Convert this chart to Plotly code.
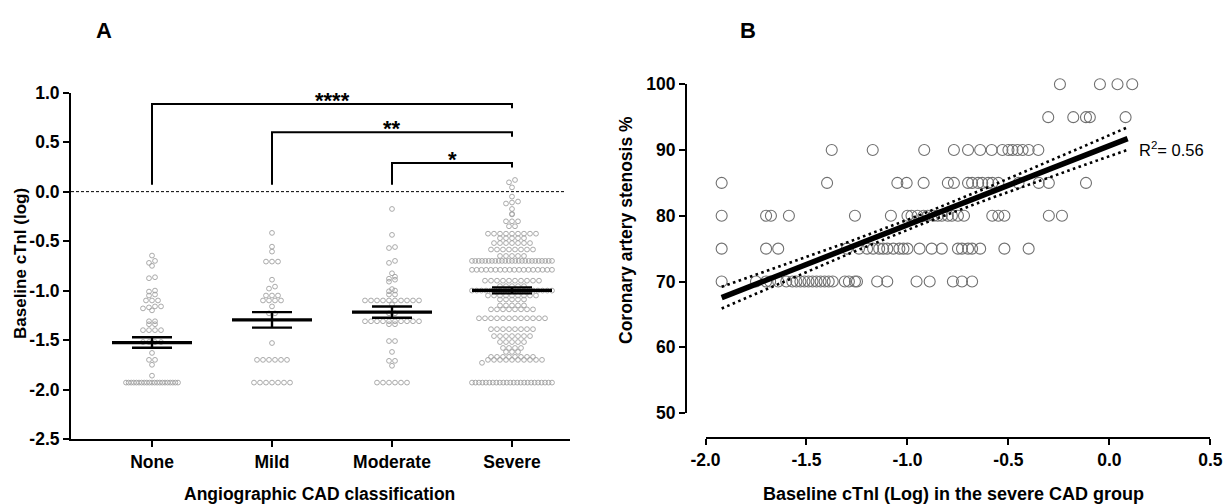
import numpy as np
import plotly.graph_objects as go

W, H = 1231, 504
FONT = "Liberation Sans, Arial, sans-serif"

# ---------------- Panel A data ----------------
categories = ["None", "Mild", "Moderate", "Severe"]

none_vals = ([-0.646, -0.70, -0.72, -0.75, -0.865, -0.875, -1.00, -1.01, -1.04, -1.05,
              -1.10, -1.10, -1.10, -1.16, -1.16, -1.17, -1.18, -1.20,
              -1.31, -1.31, -1.34, -1.34, -1.40, -1.40, -1.40, -1.40,
              -1.52, -1.52, -1.52, -1.52, -1.63, -1.70, -1.70, -1.75, -1.86]
             + [-1.93] * 21)
mild_vals = ([-0.417, -0.556, -0.606, -0.707, -0.707, -0.707, -0.89, -0.96, -0.98,
              -1.05, -1.05, -1.05, -1.10, -1.10, -1.10, -1.10, -1.16, -1.23, -1.23,
              -1.53] + [-1.70] * 6 + [-1.93] * 7)
moderate_vals = ([-0.175, -0.437, -0.56, -0.57, -0.70, -0.72, -0.825, -0.86, -0.88, -0.89,
                  -0.91, -0.985, -1.00, -1.007, -1.04, -1.04] + [-1.10] * 10
                 + [-1.14, -1.23, -1.23] + [-1.31] * 10
                 + [-1.34, -1.34, -1.51, -1.51, -1.62, -1.71, -1.71, -1.76] + [-1.93] * 6)
severe_vals = ([0.118, 0.094, 0.043, -0.05, -0.10, -0.11, -0.12, -0.175, -0.225, -0.23,
                -0.30, -0.30, -0.30, -0.35, -0.35]
               + [-0.425] * 9 + [-0.47] * 5 + [-0.52] * 7 + [-0.585] * 8 + [-0.65] * 5
               + [-0.70] * 25 + [-0.79] * 18 + [-0.90] * 10 + [-0.955] * 5 + [-1.00] * 18
               + [-1.05] * 9 + [-1.09] * 5 + [-1.15] * 5 + [-1.19] * 8 + [-1.28] * 12
               + [-1.39] * 8 + [-1.46] * 7 + [-1.52] * 5 + [-1.58] * 4 + [-1.62] * 3
               + [-1.67] * 8 + [-1.70] * 10 + [-1.73] + [-1.93] * 24)
group_vals = [none_vals, mild_vals, moderate_vals, severe_vals]

group_means = [-1.525, -1.296, -1.218, -0.998]
group_sems = [0.053, 0.078, 0.057, 0.03]

# significance comparisons: (from category, to category, bracket level, label)
comparisons = [(0, 3, 0.887, "****"), (1, 3, 0.60, "**"), (2, 3, 0.29, "*")]

A_yticks = [1.0, 0.5, 0.0, -0.5, -1.0, -1.5, -2.0, -2.5]
A_yticklabels = ["1.0", "0.5", "0.0", "-0.5", "-1.0", "-1.5", "-2.0", "-2.5"]

# ---------------- Panel B data ----------------
stenosis_levels = [100, 95, 90, 85, 80, 75, 70]
ctni_by_level = [
    [-0.245, -0.047, 0.04, 0.113],
    [-0.303, -0.179, -0.116, -0.097, 0.08],
    [-1.375, -1.172, -0.917, -0.77, -0.70, -0.64, -0.583, -0.53, -0.50, -0.48, -0.455,
     -0.43, -0.40, -0.352],
    [-1.92, -1.398, -1.05, -1.004, -0.92, -0.80, -0.77, -0.70, -0.68, -0.65, -0.63, -0.60,
     -0.58, -0.55, -0.45, -0.35, -0.30, -0.116],
    [-1.92, -1.70, -1.676, -1.587, -1.26, -1.082, -1.0, -0.98, -0.95, -0.92, -0.90, -0.87,
     -0.85, -0.83, -0.80, -0.78, -0.75, -0.72, -0.58, -0.55, -0.52, -0.30, -0.235],
    [-1.92, -1.70, -1.64, -1.30, -1.24, -1.20, -1.17, -1.14, -1.12, -1.10, -1.07, -1.04,
     -1.02, -1.0, -0.94, -0.88, -0.83, -0.75, -0.73, -0.70, -0.68, -0.64, -0.52, -0.40],
    [-1.92, -1.75, -1.70, -1.68, -1.64, -1.60, -1.57, -1.55, -1.53, -1.51, -1.49, -1.47,
     -1.45, -1.43, -1.41, -1.39, -1.37, -1.31, -1.29, -1.26, -1.25, -1.15, -1.10, -0.955,
     -0.89, -0.775, -0.73, -0.68],
]
fit_slope = 12.04
fit_intercept = 90.66
fit_x_range = [-1.92, 0.09]
ci_center_x = -0.941
ci_min_half = 0.75
ci_curv = 2.254
r2_text = "R<sup>2</sup>= 0.56"

B_xticks = [-2.0, -1.5, -1.0, -0.5, 0.0, 0.5]
B_xticklabels = ["-2.0", "-1.5", "-1.0", "-0.5", "0.0", "0.5"]
B_yticks = [50, 60, 70, 80, 90, 100]

# ---------------- geometry (pixels) ----------------
A_left, A_right, A_top, A_bottom = 71, 570, 92.7, 439
cat_px0, cat_step = 152, 120
A_xrange = [(A_left - cat_px0) / cat_step, (A_right - cat_px0) / cat_step]
A_ypx = (A_bottom - A_top) / (A_yticks[0] - A_yticks[-1])

B_left, B_right = 705.5, 1210.4
B_top, B_bottom = 84.3, 413.0
B_yaxis_px = 686
B_xaxis_py = 438


def fx(p):
    return p / W


def fy(p):
    return 1 - p / H


row_wmax = [52, 50, 70, 80]


def swarm_offsets(vals, wmax, binh=5.0, spacing=6.0):
    vals = np.asarray(vals, dtype=float)
    bins = np.round(vals * A_ypx / binh).astype(int)
    offs = np.zeros(len(vals))
    for b in np.unique(bins):
        idx = np.where(bins == b)[0]
        idx = idx[np.argsort(vals[idx], kind="stable")]
        n = len(idx)
        s = spacing if n < 2 or (n - 1) * spacing <= wmax else wmax / (n - 1)
        offs[idx] = (np.arange(n) - (n - 1) / 2) * s
    return offs / cat_step


fig = go.Figure()

# dots
for i, vals in enumerate(group_vals):
    offs = swarm_offsets(vals, row_wmax[i])
    fig.add_trace(go.Scatter(
        x=i + offs, y=vals, mode="markers", xaxis="x", yaxis="y",
        marker=dict(symbol="circle-open", size=4.8, color="#a0a0a0",
                    line=dict(width=0.9, color="#a0a0a0")),
        showlegend=False, hoverinfo="skip"))

# mean lines and SEM bars
mean_half = 40 / cat_step
cap_half = 20 / cat_step
mx, my, ex, ey = [], [], [], []
for i, (m, s) in enumerate(zip(group_means, group_sems)):
    mx += [i - mean_half, i + mean_half, None]
    my += [m, m, None]
    ex += [i - cap_half, i + cap_half, None, i, i, None, i - cap_half, i + cap_half, None]
    ey += [m + s, m + s, None, m + s, m - s, None, m - s, m - s, None]
fig.add_trace(go.Scatter(x=mx, y=my, mode="lines", line=dict(color="black", width=3.2),
                         showlegend=False, hoverinfo="skip"))
fig.add_trace(go.Scatter(x=ex, y=ey, mode="lines", line=dict(color="black", width=2.4),
                         showlegend=False, hoverinfo="skip"))

# brackets
leg_bottom = 0.07
tick_down = 0.045
bx, by = [], []
for a, b, lvl, lab in comparisons:
    bx += [a, a, b, b, None]
    by += [leg_bottom, lvl, lvl, lvl - tick_down, None]
fig.add_trace(go.Scatter(x=bx, y=by, mode="lines", line=dict(color="black", width=2),
                         showlegend=False, hoverinfo="skip"))

annotations = []
for a, b, lvl, lab in comparisons:
    annotations.append(dict(x=(a + b) / 2, y=lvl, xref="x", yref="y", text=lab,
                            showarrow=False, yanchor="bottom", yshift=-11,
                            font=dict(family=FONT, size=22, color="black", weight="bold")))

# dashed zero line
shapes = [dict(type="line", xref="x", yref="y", x0=A_xrange[0], x1=(566 - cat_px0) / cat_step,
               y0=0, y1=0, line=dict(color="black", width=1, dash="3px,2px"))]

# Panel B scatter
bxs, bys = [], []
for lvl, xs in zip(stenosis_levels, ctni_by_level):
    bxs += xs
    bys += [lvl] * len(xs)
fig.add_trace(go.Scatter(
    x=bxs, y=bys, mode="markers", xaxis="x2", yaxis="y2", cliponaxis=False,
    marker=dict(symbol="circle-open", size=11, color="#707070",
                line=dict(width=1.1, color="#707070")),
    showlegend=False, hoverinfo="skip"))

fxs = np.linspace(fit_x_range[0], fit_x_range[1], 80)
fys = fit_intercept + fit_slope * fxs
half = np.sqrt(ci_min_half ** 2 + ci_curv * (fxs - ci_center_x) ** 2)
for yy in (fys + half, fys - half):
    fig.add_trace(go.Scatter(x=fxs, y=yy, mode="lines", xaxis="x2", yaxis="y2",
                             line=dict(color="black", width=2.6, dash="2.6px,3.4px"),
                             showlegend=False, hoverinfo="skip"))
fig.add_trace(go.Scatter(x=fxs, y=fys, mode="lines", xaxis="x2", yaxis="y2",
                         line=dict(color="black", width=5.5),
                         showlegend=False, hoverinfo="skip"))

annotations.append(dict(x=fx(1137), y=fy(149), xref="paper", yref="paper", text=r2_text,
                        showarrow=False, xanchor="left", yanchor="middle",
                        font=dict(family=FONT, size=16.5, color="black")))

# titles & panel letters
bold = dict(family=FONT, color="black", weight="bold")
annotations += [
    dict(x=fx(104), y=fy(30), text="A", font=dict(size=22, **bold)),
    dict(x=fx(748), y=fy(30), text="B", font=dict(size=22, **bold)),
    dict(x=fx(20), y=fy(264), text="Baseline cTnI (log)", textangle=-90,
         font=dict(size=17, **bold)),
    dict(x=fx(320), y=fy(494), text="Angiographic CAD classification",
         font=dict(size=17.5, **bold)),
    dict(x=fx(626), y=fy(230), text="Coronary artery stenosis %", textangle=-90,
         font=dict(size=17.5, **bold)),
    dict(x=fx(953), y=fy(494), text="Baseline cTnI (Log) in the severe CAD group",
         font=dict(size=18, **bold)),
]
for an in annotations[-6:]:
    an.update(xref="paper", yref="paper", showarrow=False, xanchor="center", yanchor="middle")

tickfont = dict(family=FONT, size=17.5, color="black", weight="bold")
axis_common = dict(showgrid=False, zeroline=False, showline=True, linecolor="black",
                   linewidth=2, ticks="outside", ticklen=6, tickwidth=2, tickcolor="black",
                   tickfont=tickfont, automargin=False)

fig.update_layout(
    width=W, height=H, margin=dict(l=0, r=0, t=0, b=0, pad=0, autoexpand=False),
    paper_bgcolor="white", plot_bgcolor="white",
    xaxis=dict(domain=[fx(A_left), fx(A_right)], range=A_xrange, anchor="y",
               tickvals=[0, 1, 2, 3], ticktext=categories, **axis_common),
    yaxis=dict(domain=[fy(A_bottom), fy(A_top)], range=[A_yticks[-1], A_yticks[0]],
               anchor="x", tickvals=A_yticks, ticktext=A_yticklabels, **axis_common),
    xaxis2=dict(domain=[fx(B_left), fx(B_right)], range=[B_xticks[0], B_xticks[-1]],
                anchor="free", position=fy(B_xaxis_py),
                tickvals=B_xticks, ticktext=B_xticklabels, **axis_common),
    yaxis2=dict(domain=[fy(B_bottom), fy(B_top)], range=[B_yticks[0], B_yticks[-1]],
                anchor="free", position=fx(B_yaxis_px),
                tickvals=B_yticks, **axis_common),
    annotations=annotations, shapes=shapes,
)

fig.write_html("out.html", config={"displayModeBar": False},
               post_script="document.body.style.margin='0';document.body.style.overflow='hidden';")
